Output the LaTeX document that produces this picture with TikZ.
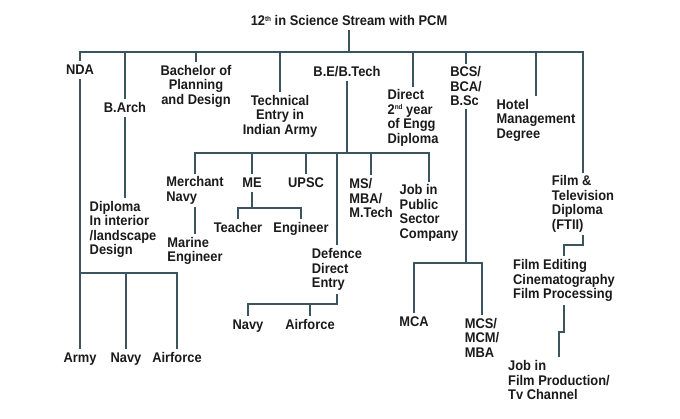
\documentclass[tikz,border=0pt]{standalone}
\usepackage{fontspec}
\newfontfamily\chartfont{Liberation Sans Bold}[FakeStretch=0.92]
\newcommand{\sups}[1]{\raisebox{4.5pt}{\fontsize{7}{7}\selectfont #1}}
\definecolor{linecol}{RGB}{60,84,96}
\definecolor{txtcol}{RGB}{26,26,26}
\tikzset{
  lbl/.style={
    font={\chartfont\fontsize{14}{14.5}\selectfont},
    text=txtcol,
    inner xsep=1pt,
    inner ysep=3pt,
    align=left
  },
  lblc/.style={
    lbl,
    align=center
  },
  oneline/.style={
    lbl,
    inner ysep=2pt,
    text height=12pt,
    text depth=2pt
  },
  link/.style={
    draw=linecol,
    line width=2.2pt
  }
}

\begin{document}
\begin{tikzpicture}[x=1pt,y=-1pt]
  \useasboundingbox (0,0) rectangle (680,419);

  \node[oneline] (root) at (349,21) {12\sups{th} in Science Stream with PCM};

  % first row
  \node[oneline] (nda) at (80,70) {NDA};
  \node[oneline] (barch) at (125,108) {B.Arch};
  \node[lblc] (bplan) at (196,86) {Bachelor of\\Planning\\and Design};
  \node[lblc] (tech) at (280,116) {Technical\\Entry in\\Indian Army};
  \node[oneline] (betech) at (347,72) {B.E/B.Tech};
  \node[lbl] (direct) at (413,118) {Direct\\2\sups{nd} year\\of Engg\\Diploma};
  \node[lbl] (bcs) at (466,86.5) {BCS/\\BCA/\\B.Sc};
  \node[lbl] (hotel) at (536,120) {Hotel\\Management\\Degree};
  \node[lbl] (film) at (583,204) {Film \&\\Television\\Diploma\\(FTII)};

  % NDA and B.Arch
  \node[lbl] (diploma) at (123,229.5) {Diploma\\In interior\\/landscape\\Design};
  \node[oneline] (army) at (80,358) {Army};
  \node[oneline] (navy) at (126,358) {Navy};
  \node[oneline] (airforce) at (177,358) {Airforce};

  % B.E/B.Tech
  \node[lbl] (merchant) at (195,190.5) {Merchant\\Navy};
  \node[lbl] (marine) at (195,251) {Marine\\Engineer};
  \node[oneline] (me) at (252,183) {ME};
  \node[oneline] (upsc) at (306,183) {UPSC};
  \node[oneline] (teacher) at (238,228) {Teacher};
  \node[oneline] (engineer) at (301,228) {Engineer};
  \node[lbl] (defence) at (337,269.5) {Defence\\Direct\\Entry};
  \node[oneline] (navyb) at (248,325) {Navy};
  \node[oneline] (airforceb) at (310,325) {Airforce};
  \node[lbl] (ms) at (371,198) {MS/\\MBA/\\M.Tech};
  \node[lbl] (job) at (429,213) {Job in\\Public\\Sector\\Company};

  % BCS and film
  \node[oneline] (mca) at (414,322) {MCA};
  \node[lbl] (mcs) at (482,337.5) {MCS/\\MCM/\\MBA};
  \node[lbl] (edit) at (564,280.5) {Film Editing\\Cinematography\\Film Processing};
  \node[lbl] (filmjob) at (559,380) {Job in\\Film Production/\\Tv Channel};

  \coordinate (topbus) at (0,52);
  \coordinate (ndabus) at (0,273);
  \coordinate (midbus) at (0,153);
  \coordinate (mebus) at (0,208);
  \coordinate (defbus) at (0,304);
  \coordinate (bcsbus) at (0,263);
  \coordinate (ftiibend) at (0,245);
  \coordinate (editbend) at (0,332);

  \draw[link] (root.south) -- (root.south |- topbus);
  \draw[link] (nda.north) -- (nda.north |- topbus) -- (film.north |- topbus) -- (film.north);
  \foreach \n in {barch,bplan,tech,direct,bcs,hotel}
    \draw[link] (\n.north |- topbus) -- (\n.north);

  \draw[link] (nda.south) -- (army.north);
  \draw[link] (army.north |- ndabus) -- (airforce.north |- ndabus) -- (airforce.north);
  \draw[link] (navy.north |- ndabus) -- (navy.north);
  \draw[link] (barch.south) -- (barch.south |- diploma.north);

  \draw[link] (betech.south) -- (betech.south |- midbus);
  \draw[link] (merchant.north) -- (merchant.north |- midbus) -- (job.north |- midbus) -- (job.north);
  \foreach \n in {me,upsc,defence,ms}
    \draw[link] (\n.north |- midbus) -- (\n.north);
  \draw[link] (merchant.south) -- (merchant.south |- marine.north);
  \draw[link] (me.south) -- (me.south |- mebus);
  \draw[link] (teacher.north) -- (teacher.north |- mebus) -- (engineer.north |- mebus) -- (engineer.north);
  \draw[link] (navyb.north) -- (navyb.north |- defbus) -- (defence.south |- defbus) -- (defence.south);
  \draw[link] (airforceb.north |- defbus) -- (airforceb.north);

  \draw[link] (bcs.south) -- (bcs.south |- bcsbus);
  \draw[link] (mca.north) -- (mca.north |- bcsbus) -- (mcs.north |- bcsbus) -- (mcs.north);
  \draw[link] (film.south) -- (film.south |- ftiibend) -- (edit.north |- ftiibend) -- (edit.north);
  \draw[link] (edit.south) -- (edit.south |- editbend) -- (filmjob.north |- editbend) -- (filmjob.north);
\end{tikzpicture}
\end{document}
